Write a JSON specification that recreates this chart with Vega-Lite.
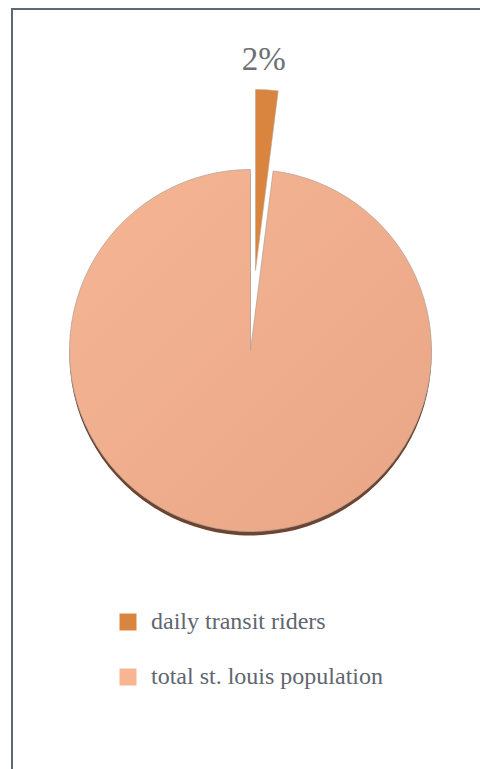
{
  "$schema": "https://vega.github.io/schema/vega-lite/v6.json",
  "width": 477,
  "height": 770,
  "autosize": {"type": "none"},
  "padding": {"left": 12, "top": 9, "right": -9, "bottom": -10},
  "background": "white",
  "view": {"stroke": "#5E6873", "strokeWidth": 2},
  "config": {
    "view": {"stroke": "#5E6873", "strokeWidth": 2},
    "font": "Liberation Serif"
  },
  "data": {
    "values": [
      {"category": "daily transit riders", "value": 0.02},
      {"category": "total st. louis population", "value": 0.98}
    ]
  },
  "encoding": {
    "theta": {"field": "value", "type": "quantitative", "stack": true},
    "order": {"field": "category", "type": "nominal", "sort": "ascending"}
  },
  "layer": [
    {
      "mark": {"type": "arc", "radius": 181, "yOffset": -39.5, "fill": "#6E4431"},
      "encoding": {
        "opacity": {"condition": {"test": "datum.category === 'daily transit riders'", "value": 0}, "value": 1}
      }
    },
    {
      "mark": {
        "type": "arc",
        "radius": 181,
        "yOffset": -43.5,
        "stroke": "#B9A79B",
        "strokeWidth": 0.8,
        "fill": {
          "gradient": "linear",
          "x1": 0, "y1": 0, "x2": 1, "y2": 1,
          "stops": [
            {"offset": 0, "color": "#F5B593"},
            {"offset": 1, "color": "#E9A686"}
          ]
        }
      },
      "encoding": {
        "opacity": {"condition": {"test": "datum.category === 'daily transit riders'", "value": 0}, "value": 1}
      }
    },
    {
      "mark": {"type": "arc", "radius": 181, "xOffset": 5, "yOffset": -123.5, "stroke": "#B9A79B", "strokeWidth": 0.6},
      "encoding": {
        "color": {
          "field": "category",
          "type": "nominal",
          "scale": {
            "domain": ["daily transit riders", "total st. louis population"],
            "range": ["#D9843F", "#F8B592"]
          },
          "legend": {
            "orient": "none",
            "legendX": 104,
            "legendY": 601,
            "title": null,
            "padding": 0,
            "symbolType": "square",
            "symbolSize": 289,
            "symbolStrokeWidth": 0,
            "symbolOpacity": 1,
            "labelFont": "Liberation Serif",
            "labelFontSize": 24,
            "labelColor": "#5F6670",
            "labelOffset": 11,
            "labelLimit": 400,
            "rowPadding": 31
          }
        },
        "opacity": {"condition": {"test": "datum.category === 'daily transit riders'", "value": 1}, "value": 0}
      }
    },
    {
      "mark": {
        "type": "text",
        "radius": 291,
        "yOffset": -43.5,
        "dx": -5,
        "baseline": "middle",
        "align": "center",
        "font": "Liberation Serif",
        "fontSize": 33,
        "color": "#6D7075"
      },
      "encoding": {
        "text": {
          "condition": {"test": "datum.category === 'daily transit riders'", "field": "value", "type": "quantitative", "format": ".0%"},
          "value": ""
        }
      }
    }
  ]
}
